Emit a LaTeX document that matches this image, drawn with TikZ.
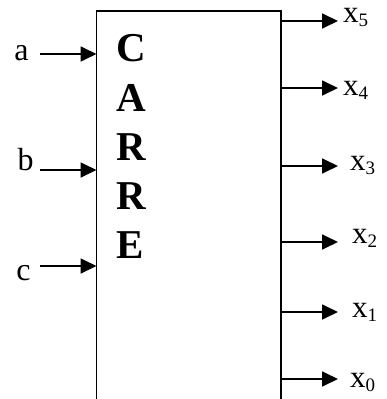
\documentclass[tikz,border=0pt]{standalone}
\usepackage{fontspec}
\setmainfont{Liberation Serif}
\usetikzlibrary{arrows.meta}
\begin{document}
\begin{tikzpicture}[x=1pt,y=-1pt,
  wire/.style={line width=1.8pt,-{Triangle[length=16pt,width=15pt]}},
  boxline/.style={line width=1.9pt},
  inlbl/.style={inner sep=0pt,anchor=base,font=\fontsize{32}{32}\selectfont},
  outlbl/.style={inner sep=0pt,anchor=base west,font=\fontsize{31}{31}\selectfont},
  big/.style={inner sep=0pt,anchor=base west,font=\fontsize{41}{41}\selectfont\bfseries}]
\useasboundingbox (0,0) rectangle (386,399);
% box
\coordinate (bl) at (96.5,399);
\coordinate (tl) at (96.5,11);
\coordinate (tr) at (281,11);
\coordinate (br) at (281,399);
\draw[boxline] (bl) -- (tl) -- (tr) -- (br);
% title letters
\node[big] (l1) at (116,61) {C};
\node[big] (l2) at (116,111) {A};
\node[big] (l3) at (116,160) {R};
\node[big] (l4) at (116,209) {R};
\node[big] (l5) at (116,258) {E};
% inputs
\node[inlbl] (a) at (21.5,60) {a};
\node[inlbl] (b) at (25.5,170) {b};
\node[inlbl] (c) at (23.5,280) {c};
\coordinate (ta) at (40,54);  \coordinate (ha) at (96.5,54);
\coordinate (tb) at (40,170); \coordinate (hb) at (96.5,170);
\coordinate (tc) at (40,266); \coordinate (hc) at (96.5,266);
\draw[wire] (ta) -- (ha);
\draw[wire] (tb) -- (hb);
\draw[wire] (tc) -- (hc);
% outputs
\foreach \i/\y/\lx/\ly in {5/21/343/22, 4/88/343/95, 3/166/350/170, 2/242/352/243, 1/312/352/317, 0/379/350/387}{
  \coordinate (s\i) at (281,\y);
  \coordinate (e\i) at (338,\y);
  \draw[wire] (s\i) -- (e\i);
  \node[outlbl] (x\i) at (\lx,\ly) {x\raisebox{-4.5pt}{\fontsize{19}{19}\selectfont \i}};
}
\end{tikzpicture}
\end{document}
